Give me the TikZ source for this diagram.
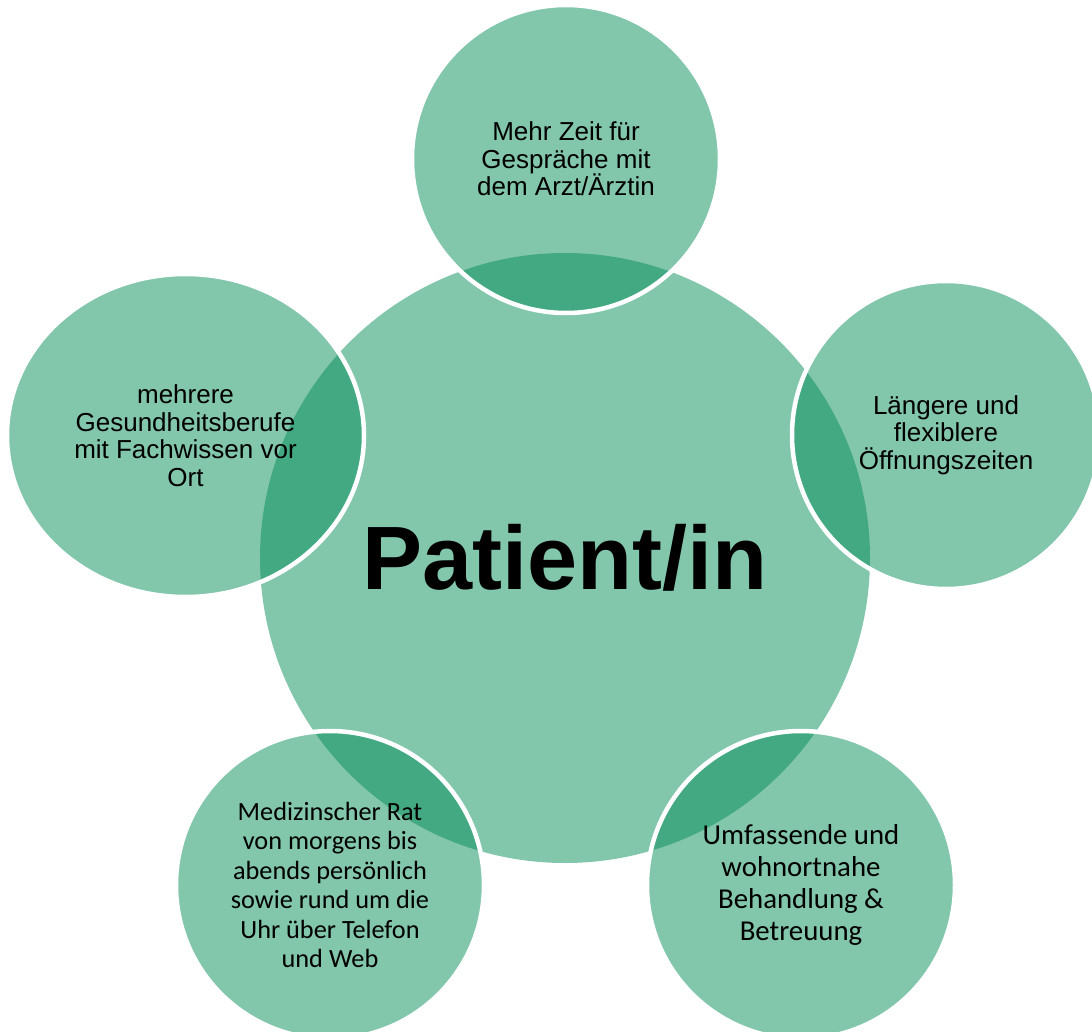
\documentclass[tikz,border=0pt]{standalone}
\usepackage{fontspec}
\setmainfont{Liberation Sans}
\newfontfamily\calibrifont{Carlito}
\usetikzlibrary{shapes.geometric}
\definecolor{bubble}{RGB}{5,141,89}
\begin{document}
\begin{tikzpicture}[x=1pt,y=-1pt,
  bub/.style={fill=bubble, fill opacity=0.5, text opacity=1, text=black, inner sep=0pt, align=center},
  outerbub/.style={bub, circle, draw=white, draw opacity=1, line width=4.5pt, minimum size=308pt},
  arialtxt/.style={font=\fontsize{26}{27.5}\selectfont},
  caltxt/.style={font=\calibrifont\fontsize{26.3}{29.4}\selectfont},
  calbig/.style={font=\calibrifont\fontsize{28.8}{31.7}\selectfont},
]
\useasboundingbox (0,0) rectangle (1092,1032);
% central circle
\node[bub, circle, draw=none, minimum size=610pt,
      font=\bfseries\fontsize{90}{90}\selectfont] (center) at (565,558)
      {\raisebox{3pt}{Patient/in}};
% surrounding circles
\node[outerbub, arialtxt] (top) at (566,159)
  {Mehr Zeit für\\Gespräche mit\\dem Arzt/Ärztin};
\node[outerbub, arialtxt] (right) at (946,435)
  {Längere und\\flexiblere\\Öffnungszeiten};
\node[bub, ellipse, draw=white, draw opacity=1, line width=4.5pt,
      minimum width=357pt, minimum height=323pt, arialtxt] (left) at (185.5,435.5)
  {mehrere\\Gesundheitsberufe\\mit Fachwissen vor\\Ort};
\node[outerbub, caltxt] (botleft) at (330,885)
  {Medizinscher Rat\\von morgens bis\\abends persönlich\\sowie rund um die\\Uhr über Telefon\\und Web};
\node[outerbub, calbig] (botright) at (801,885)
  {Umfassende und\\wohnortnahe\\Behandlung \&\\Betreuung};
\end{tikzpicture}
\end{document}
